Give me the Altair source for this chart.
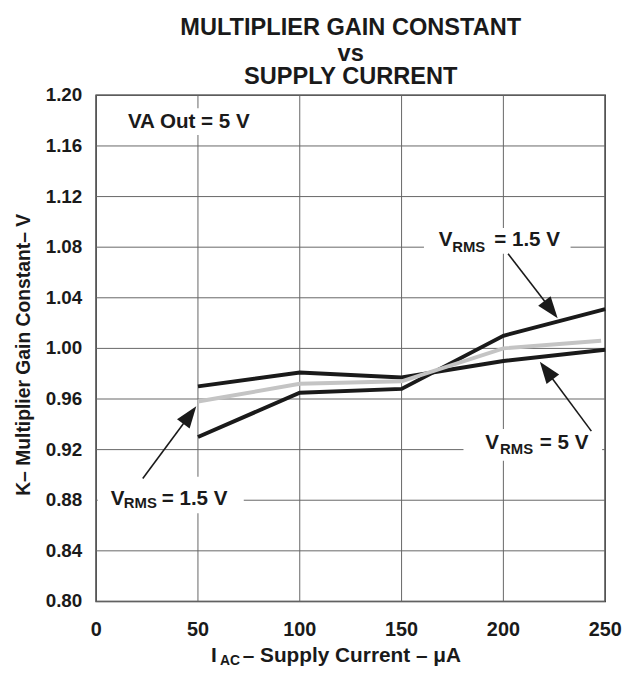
import altair as alt
import pandas as pd

# ---- values ----
current_ua = [50, 100, 150, 200, 250]
k_vrms_5v = [0.970, 0.981, 0.977, 0.990, 0.999]
k_vrms_1p5v = [0.930, 0.965, 0.968, 1.010, 1.031]
current_gray = [50, 100, 150, 200, 248]
k_gray = [0.958, 0.972, 0.974, 1.000, 1.006]

x_ticks = [0, 50, 100, 150, 200, 250]
y_ticks = [0.80, 0.84, 0.88, 0.92, 0.96, 1.00, 1.04, 1.08, 1.12, 1.16, 1.20]
title_lines = ["MULTIPLIER GAIN CONSTANT", "vs", "SUPPLY CURRENT"]
y_title = "K– Multiplier Gain Constant– V"
x_title_parts = ["I", "AC", "– Supply Current – μA"]
va_label = "VA Out = 5 V"
vrms_main, vrms_sub = "V", "RMS"
lbl_15, lbl_5 = "= 1.5 V", "= 5 V"

FONT = "Liberation Sans"
INK = "#1a1a1a"
GRID = "#666666"
ARROW = "M0,-1L0.72,1L-0.72,1Z"

lines_df = pd.DataFrame({
    "current": current_ua + current_ua + current_gray,
    "k": k_vrms_5v + k_vrms_1p5v + k_gray,
    "series": ["5V"] * 5 + ["1.5V"] * 5 + ["gray"] * 5,
})
xt_df = pd.DataFrame({"v": x_ticks, "lab": [str(v) for v in x_ticks]})
yt_df = pd.DataFrame({"v": y_ticks, "lab": [f"{v:.2f}" for v in y_ticks]})
one = pd.DataFrame({"_": [0]})

xs = alt.Scale(domain=[0, 250], nice=False, zero=False)
ys = alt.Scale(domain=[0.80, 1.20], nice=False, zero=False)


def X(v):
    return alt.XDatum(v, type="quantitative", scale=xs, axis=None)


def Y(v):
    return alt.YDatum(v, type="quantitative", scale=ys, axis=None)


def XF(f):
    return alt.X(f, type="quantitative", scale=xs, axis=None)


def YF(f):
    return alt.Y(f, type="quantitative", scale=ys, axis=None)


# grid lines and tick labels drawn through the scales
x_grid = alt.Chart(xt_df).mark_rule(color=GRID, strokeWidth=1).encode(
    x=XF("v"), y=Y(0.80), y2=alt.Y2Datum(1.20))
y_grid = alt.Chart(yt_df).mark_rule(color=GRID, strokeWidth=1).encode(
    y=YF("v"), x=X(0), x2=alt.X2Datum(250))
x_labels = alt.Chart(xt_df).mark_text(
    align="center", baseline="alphabetic", font=FONT, fontWeight="bold", fontSize=20, color=INK
).encode(x=XF("v"), y=alt.value(546), text="lab:N")
y_labels = alt.Chart(yt_df).mark_text(
    align="right", baseline="middle", font=FONT, fontWeight="bold", fontSize=19, color=INK
).encode(y=YF("v"), x=alt.value(-14), text="lab:N")

black = alt.Chart(lines_df).transform_filter(alt.datum.series != "gray").mark_line(
    color=INK, strokeWidth=4, strokeCap="butt"
).encode(x=XF("current"), y=YF("k"), detail="series:N")
gray = alt.Chart(lines_df).transform_filter(alt.datum.series == "gray").mark_line(
    color="#c4c4c4", strokeWidth=4, strokeCap="butt"
).encode(x=XF("current"), y=YF("k"))


def box(x0, x1, y0, y1):
    return alt.Chart(one).mark_rect(color="white").encode(
        x=X(x0), x2=alt.X2Datum(x1), y=Y(y0), y2=alt.Y2Datum(y1))


def arrow(x0, y0, x1, y1, ang):
    shaft = alt.Chart(one).mark_rule(color=INK, strokeWidth=1.6).encode(
        x=X(x0), y=Y(y0), x2=alt.X2Datum(x1), y2=alt.Y2Datum(y1))
    head = alt.Chart(one).mark_point(shape=ARROW, filled=True, size=484, angle=ang,
                                     color=INK, opacity=1, strokeWidth=0).encode(
        x=X(x1), y=Y(y1))
    return [shaft, head]


def txt(s, x, y, size=20.8):
    return alt.Chart(one).mark_text(text=s, align="left", baseline="alphabetic", font=FONT,
                                    fontWeight="bold", fontSize=size, color=INK).encode(
        x=X(x), y=Y(y))


def vrms(xv, yv, xs_, ys_, xr, rest):
    return [txt(vrms_main, xv, yv), txt(vrms_sub, xs_, ys_, 15), txt(rest, xr, yv)]


def ptxt(s, x, y, size, align="left"):
    return alt.Chart(one).mark_text(text=s, align=align, baseline="alphabetic", font=FONT,
                                    fontWeight="bold", fontSize=size, color=INK).encode(
        x=alt.value(x), y=alt.value(y))


layers = [
    x_grid, y_grid,
    box(12.2, 77.3, 1.1898, 1.1687),
    box(161.0, 233.0, 1.0951, 1.0748),
    box(180.4, 248.5, 0.9362, 0.9112),
    box(0.8, 72.5, 0.8986, 0.8697),
    black, gray,
    x_labels, y_labels,
]
layers += arrow(202.3, 1.0748, 223.4, 1.0307, 142.4)
layers += arrow(243.2, 0.9346, 221.1, 0.9825, 323.4)
layers += arrow(22.9, 0.8971, 46.0, 0.9473, 36.5)
layers.append(txt(va_label, 15.6, 1.1744))
layers += vrms(168.3, 1.0810, 174.9, 1.0763, 195.5, lbl_15)
layers += vrms(191.1, 0.9205, 198.4, 0.9166, 217.9, lbl_5)
layers += vrms(7.2, 0.8762, 13.6, 0.8736, 32.2, lbl_15)

# chart title lines
layers.append(ptxt(title_lines[0], 257, -61, 23.8, "center"))
layers.append(ptxt(title_lines[1], 257, -35, 23.8, "center"))
layers.append(ptxt(title_lines[2], 257, -11, 23.8, "center"))
# x axis title with subscript
layers.append(ptxt(x_title_parts[0], 116, 572, 21))
layers.append(ptxt(x_title_parts[1], 125, 575, 14))
layers.append(ptxt(x_title_parts[2], 148, 572, 21))
# y axis title (rotated)
layers.append(alt.Chart(one).mark_text(text=y_title, align="center", baseline="middle",
                                       font=FONT, fontWeight="bold", fontSize=19.5,
                                       color=INK, angle=270).encode(
    x=alt.value(-73), y=alt.value(262)))

chart = alt.layer(*layers).properties(
    width=514, height=511,
    padding={"left": 89, "top": 85, "right": 20, "bottom": 64},
    autosize=alt.AutoSizeParams(type="none"),
    background="white",
).configure_view(
    stroke="#222222", strokeWidth=1.5
)

chart.save("out.html", embed_options={"renderer": "svg", "actions": False})
